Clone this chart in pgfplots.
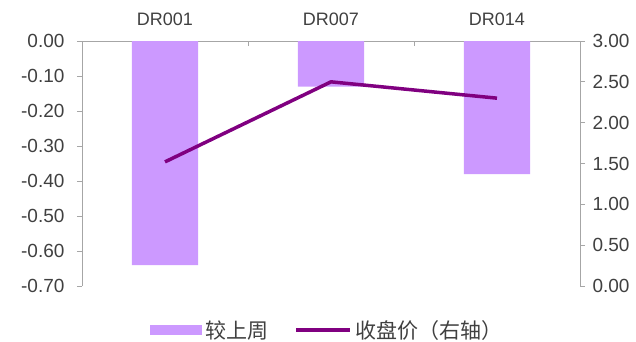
\documentclass[border=0pt]{standalone}
\usepackage{pgfplots}
\pgfplotsset{compat=1.18}
\usepackage{fontspec}
\setmainfont{Liberation Sans}
\newfontfamily\cjk{Noto Sans CJK SC}

\definecolor{barpurple}{HTML}{CC99FF}
\definecolor{linepurple}{HTML}{800080}
\definecolor{txtgray}{HTML}{404040}
\definecolor{axgray}{HTML}{A6A6A6}

\pgfplotsset{
  base/.style={
    scale only axis, width=498bp, height=245bp,
    xmin=-0.5, xmax=2.5,
    tick label style={font=\fontsize{18bp}{21bp}\selectfont, text=txtgray},
    yticklabel style={font=\fontsize{19bp}{22bp}\selectfont},
    /pgf/number format/assume math mode=true,
    /pgf/number format/.cd, fixed, fixed zerofill, precision=2, /pgfplots/.cd,
  }
}

\begin{document}
\begin{tikzpicture}
\useasboundingbox (-82bp,-56bp) rectangle (554bp,286bp);

% weekly change (left axis), categories labelled along the top line
\begin{axis}[base,
  ymin=-0.7, ymax=0,
  ytick={-0.7,-0.6,-0.5,-0.4,-0.3,-0.2,-0.1,0},
  axis x line*=top, axis y line*=left,
  axis line style={draw=axgray, line width=0.8bp},
  xtick={0,1,2}, xticklabels={DR001,DR007,DR014},
  major x tick style={draw=none},
  minor xtick={-0.5,0.5,1.5,2.5},
  minor x tick style={draw=axgray, line width=0.8bp},
  minor tick length=-5bp,
  x tick label style={yshift=7bp},
  ytick style={draw=axgray, line width=0.8bp},
  tick align=outside, major tick length=5bp,
  yticklabel style={xshift=-9bp},
]
\addplot[ybar, bar width=0.4, fill=barpurple, draw=none]
  coordinates {(0,-0.64) (1,-0.13) (2,-0.38)};
\end{axis}

% closing price (right axis)
\begin{axis}[base,
  ymin=0, ymax=3,
  ytick={0,0.5,1,1.5,2,2.5,3},
  axis x line=none, axis y line*=right,
  axis line style={draw=axgray, line width=0.8bp},
  ytick style={draw=axgray, line width=0.8bp},
  tick align=outside, major tick length=5bp,
  yticklabel style={xshift=4bp},
  legend columns=2,
  legend style={at={(0.495,-0.18)}, anchor=center, draw=none, fill=none,
    font=\cjk\fontsize{21bp}{24bp}\selectfont, text=txtgray,
    nodes={inner xsep=4bp},
    /tikz/every even column/.append style={column sep=22bp},
    inner sep=0pt},
]
\addlegendimage{area legend, legend image code/.code={
  \fill[barpurple] (0bp,-4.5bp) rectangle (51bp,4.5bp);}}
\addlegendentry{较上周}
\addplot[linepurple, line width=3.5bp, line join=round,
  legend image code/.code={\draw[linepurple, line width=3.5bp] (0bp,0bp) -- (54bp,0bp);}]
  coordinates {(0,1.52) (1,2.50) (2,2.30)};
\addlegendentry{收盘价（右轴）}
\end{axis}
\end{tikzpicture}
\end{document}
